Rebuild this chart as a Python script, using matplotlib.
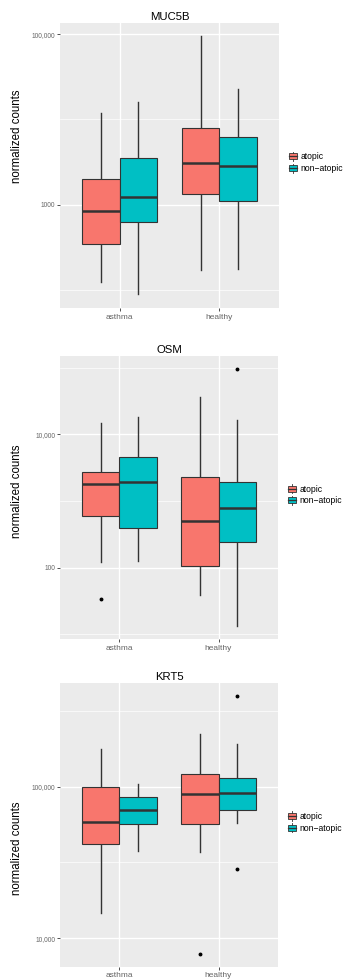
import matplotlib
matplotlib.use("Agg")
import matplotlib.pyplot as plt
from matplotlib.patches import Patch, Rectangle
from matplotlib.lines import Line2D
from matplotlib.legend_handler import HandlerBase
from matplotlib.ticker import FixedLocator, NullFormatter

plt.rcParams['font.family'] = ['Liberation Sans', 'DejaVu Sans']

# data (whislo, q1, median, q3, whishi)
# box order: asthma/atopic, asthma/non-atopic, healthy/atopic, healthy/non-atopic
conditions = ["asthma", "healthy"]
groups = ["atopic", "non\u2212atopic"]
genes = ["MUC5B", "OSM", "KRT5"]

muc5b_stats = [
    [126, 345, 849, 2013, 11900],
    [90, 635, 1247, 3516, 16200],
    [173, 1330, 3076, 7980, 95500],
    [176, 1102, 2884, 6200, 22650],
]
muc5b_outliers = [[], [], [], []]

osm_stats = [
    [123, 603, 1815, 2750, 14900],
    [126, 390, 1905, 4520, 18400],
    [39, 105, 496, 2312, 35900],
    [13.5, 240, 776, 1946, 16400],
]
osm_outliers = [[33.6], [], [], [95300]]

krt5_stats = [
    [14600, 41700, 58200, 100000, 176500],
    [37500, 57000, 69500, 85900, 104000],
    [37000, 56500, 89900, 121800, 221500],
    [57600, 69500, 91300, 114000, 192000],
]
krt5_outliers = [[], [], [7890], [392000, 28800]]

# axis limits, ticks and labels per panel
ylims = [(61.7, 134900), (8.45, 149300), (6500, 478600)]
major_ticks = [[1000, 100000], [100, 10000], [10000, 100000]]
major_labels = [["1000", "100,000"], ["100", "10,000"], ["10,000", "100,000"]]
minor_ticks = [[100, 10000], [10, 1000, 100000], [10 ** 4.5, 10 ** 5.5]]
ylabel_y = [0.602, 0.522, 0.419]

fill_colors = ["#F8766D", "#00BFC4"]
edge = "#333333"


class BoxKey(HandlerBase):
    # small boxplot glyph for the legend, like ggplot's key
    def create_artists(self, legend, orig_handle, xdescent, ydescent,
                       width, height, fontsize, trans):
        x0, y0 = -xdescent, -ydescent
        fc = orig_handle.get_facecolor()
        rect = Rectangle((x0 + width * 0.08, y0 + height * 0.15), width * 0.84, height * 0.7,
                         facecolor=fc, edgecolor=edge, lw=0.6, transform=trans)
        cx = x0 + width / 2
        med = Line2D([x0 + width * 0.08, x0 + width * 0.92], [y0 + height / 2] * 2,
                     color=edge, lw=0.9, transform=trans)
        w1 = Line2D([cx, cx], [y0 - height * 0.05, y0 + height * 0.15], color=edge, lw=0.6, transform=trans)
        w2 = Line2D([cx, cx], [y0 + height * 0.85, y0 + height * 1.05], color=edge, lw=0.6, transform=trans)
        return [rect, med, w1, w2]


def draw_panel(ax, title, stats, outliers, ylim, majors, labels, minors, label_y):
    ax.set_facecolor("#EBEBEB")
    ax.set_yscale("log")
    ax.set_ylim(*ylim)
    ax.set_xlim(0.4, 2.6)

    positions, bstats = [], []
    k = 0
    for ci, cond in enumerate(conditions):
        for gi, grp in enumerate(groups):
            lo, q1, med, q3, hi = stats[k]
            bstats.append(dict(whislo=lo, q1=q1, med=med, q3=q3, whishi=hi,
                               fliers=outliers[k], label=cond))
            positions.append(ci + 1 + (gi - 0.5) * 0.375)
            k += 1

    bp = ax.bxp(bstats, positions=positions, widths=0.375, patch_artist=True,
                showcaps=False, manage_ticks=False,
                boxprops=dict(edgecolor=edge, linewidth=0.8),
                whiskerprops=dict(color=edge, linewidth=1.0),
                medianprops=dict(color=edge, linewidth=1.8, solid_capstyle="butt"),
                flierprops=dict(marker="o", markersize=1.8, markerfacecolor="black",
                                markeredgecolor="black", linestyle="none"))
    for i, box in enumerate(bp["boxes"]):
        box.set_facecolor(fill_colors[i % 2])
        box.set_zorder(3)
    for ln in bp["medians"]:
        ln.set_zorder(4)

    ax.yaxis.set_major_locator(FixedLocator(majors))
    ax.set_yticklabels(labels)
    ax.yaxis.set_minor_locator(FixedLocator(minors))
    ax.yaxis.set_minor_formatter(NullFormatter())
    ax.set_xticks([1, 2])
    ax.set_xticklabels(conditions)

    ax.grid(which="major", color="white", linewidth=1.0)
    ax.grid(which="minor", axis="y", color="white", linewidth=0.5)
    ax.set_axisbelow(True)
    for s in ax.spines.values():
        s.set_visible(False)
    ax.tick_params(which="major", length=2, width=0.6, color=edge, pad=1.5)
    ax.tick_params(which="minor", length=0)
    ax.tick_params(axis="y", labelsize=4.8, labelcolor="#666666")
    ax.tick_params(axis="x", labelsize=6, labelcolor="#666666", pad=2)

    ax.set_title(title, fontsize=8.2, pad=2.5)
    ax.set_ylabel("normalized counts", fontsize=8.3)
    ax.yaxis.set_label_coords(-0.168, label_y)

    handles = [Patch(facecolor=c) for c in fill_colors]
    ax.legend(handles, groups, handler_map={Patch: BoxKey()},
              loc="center left", bbox_to_anchor=(1.04, 0.51), frameon=False,
              fontsize=6.2, handlelength=1.2, handleheight=1.15, handletextpad=0.25,
              labelspacing=0.3, borderaxespad=0, borderpad=0)


fig = plt.figure(figsize=(3.44, 9.8), dpi=100)
rects = [
    [60 / 344, 1 - 308 / 980, 219 / 344, 285 / 980],
    [60 / 344, 1 - 639.3 / 980, 218 / 344, 283.3 / 980],
    [60 / 344, 1 - 966.7 / 980, 218 / 344, 283.4 / 980],
]
all_stats = [muc5b_stats, osm_stats, krt5_stats]
all_outliers = [muc5b_outliers, osm_outliers, krt5_outliers]
for i, gene in enumerate(genes):
    ax = fig.add_axes(rects[i])
    draw_panel(ax, gene, all_stats[i], all_outliers[i], ylims[i],
               major_ticks[i], major_labels[i], minor_ticks[i], ylabel_y[i])

fig.savefig("out.png", dpi=100)
